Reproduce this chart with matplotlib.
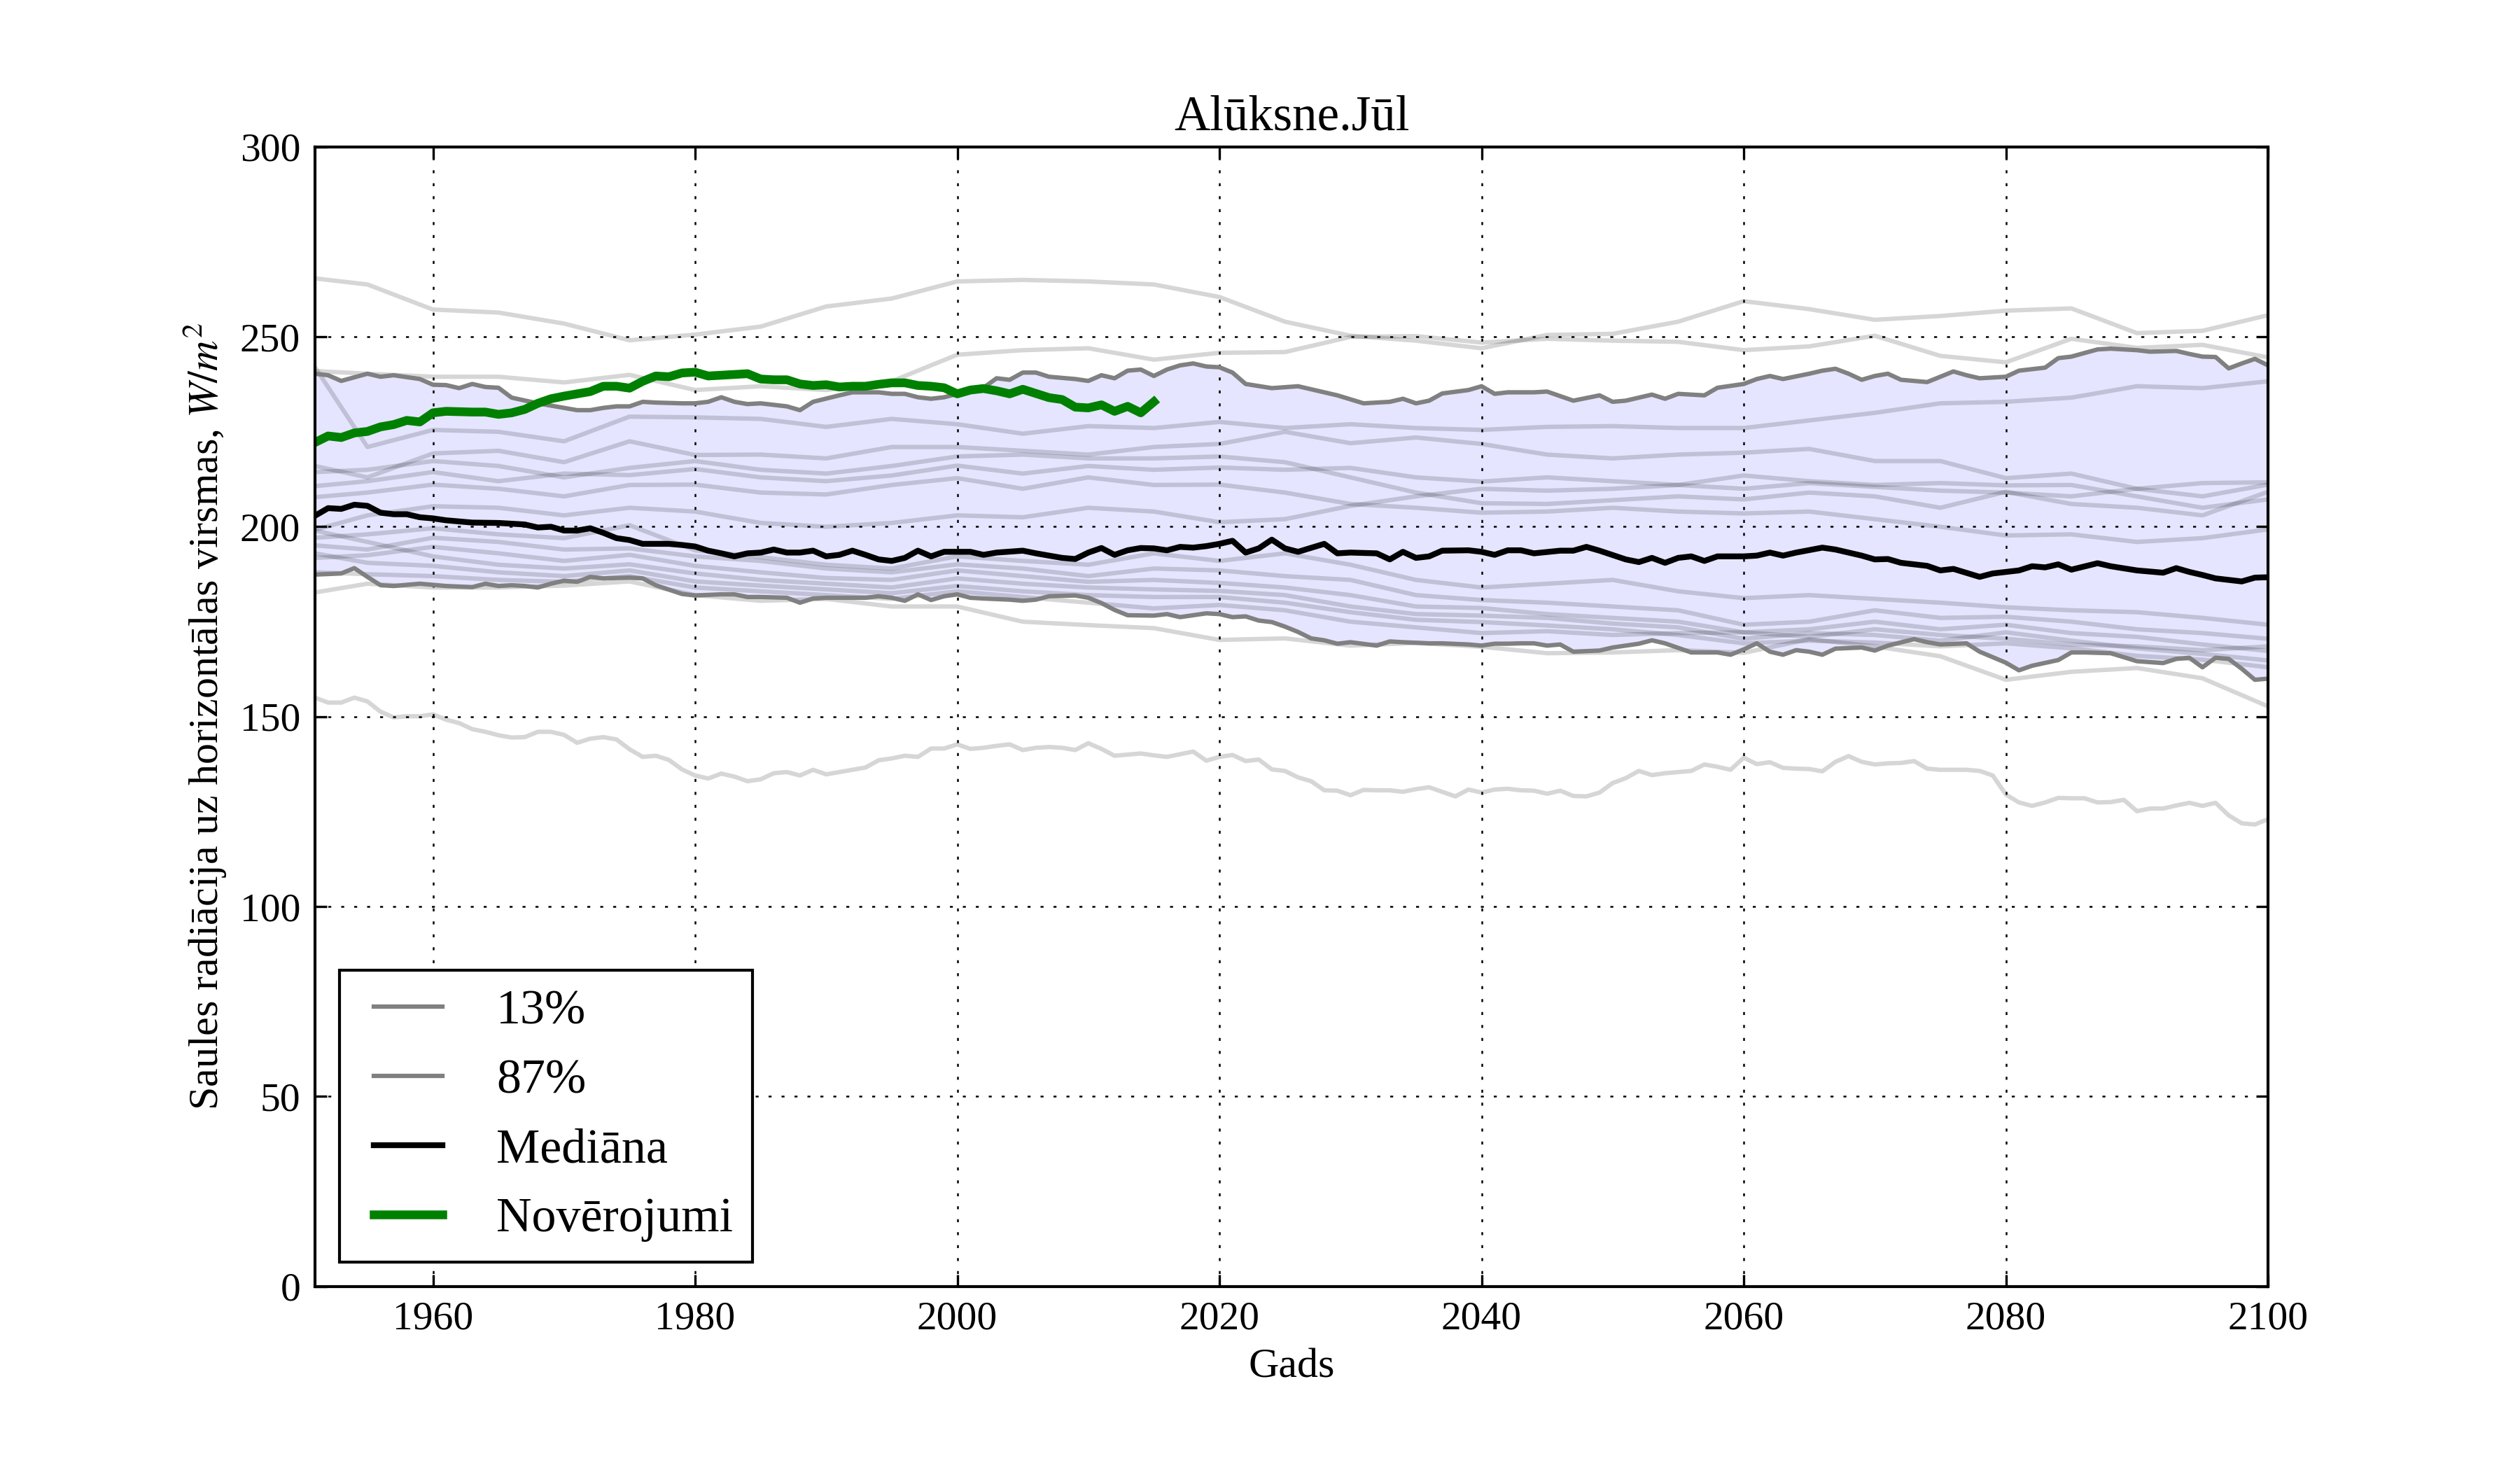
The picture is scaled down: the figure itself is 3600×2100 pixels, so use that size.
#Alūksne July solar radiation: ensemble spread, percentiles, median and observations

import numpy as np
import matplotlib
matplotlib.use("Agg")
import matplotlib.pyplot as plt

plt.rcParams['font.family'] = ['Liberation Serif', 'DejaVu Serif']
plt.rcParams['mathtext.fontset'] = 'stix'
plt.rcParams['xtick.direction'] = 'in'
plt.rcParams['ytick.direction'] = 'in'
plt.rcParams['xtick.top'] = True
plt.rcParams['ytick.right'] = True
plt.rcParams['xtick.major.size'] = 4
plt.rcParams['ytick.major.size'] = 4
plt.rcParams['axes.linewidth'] = 1.0

#----------Ensemble members (5-year readings)----------
years5 = [1951] + list(range(1955, 2101, 5))

mem_u1 = [265.4, 263.8, 257.2, 256.4, 253.5, 249.1, 250.6, 252.7, 258.0, 260.1, 264.6, 265.0, 264.6, 263.8, 260.5, 254.0,
          250.3, 249.0, 247.0, 250.5, 250.8, 254.0, 259.4, 257.3, 254.5, 255.5, 256.9, 257.5, 251.0, 251.6, 255.7]
mem_u2 = [241.0, 240.3, 239.5, 239.5, 238.0, 240.0, 236.0, 237.0, 236.0, 238.3, 245.3, 246.5, 247.0, 244.0, 245.8, 246.0,
          250.0, 250.2, 248.5, 249.5, 249.0, 248.7, 246.5, 247.5, 250.3, 245.0, 243.3, 249.5, 247.1, 247.9, 244.6]
mem_m1 = [242.0, 221.0, 225.5, 225.0, 222.5, 229.0, 228.8, 228.4, 226.3, 228.4, 227.0, 224.5, 226.5, 226.0, 227.6, 226.0,
          227.0, 226.0, 225.5, 226.3, 226.5, 226.0, 226.0, 228.0, 230.0, 232.5, 232.9, 234.0, 237.0, 236.5, 238.3]
mem_iu2 = [216.0, 213.0, 219.3, 220.0, 217.0, 222.5, 218.9, 219.0, 218.0, 221.0, 221.0, 220.0, 219.0, 221.0, 221.8, 225.0,
           222.0, 223.5, 221.8, 219.0, 218.0, 219.0, 219.5, 220.5, 217.3, 217.3, 212.8, 214.0, 210.0, 208.0, 211.1]
mem_iu3 = [214.4, 215.0, 217.3, 216.0, 213.0, 215.5, 217.3, 215.0, 214.0, 216.0, 218.5, 219.0, 218.0, 218.0, 218.5, 217.0,
           213.0, 209.0, 206.2, 206.0, 207.0, 208.0, 207.2, 209.0, 208.0, 205.0, 209.2, 206.0, 205.0, 203.0, 209.2]
mem_iu4 = [210.7, 212.0, 214.4, 212.0, 214.0, 213.6, 215.2, 213.0, 212.0, 213.5, 216.1, 214.0, 216.0, 215.0, 215.6, 215.0,
           215.5, 213.0, 211.9, 213.0, 212.0, 211.0, 213.5, 212.0, 211.0, 211.5, 210.9, 211.0, 208.0, 205.0, 207.2]
mem_iu5 = [207.8, 209.0, 211.1, 210.0, 208.0, 211.0, 211.1, 209.0, 208.5, 211.0, 212.8, 210.0, 213.0, 211.0, 211.1, 209.0,
           206.0, 205.0, 203.7, 204.0, 205.0, 204.0, 203.5, 204.0, 202.0, 200.0, 197.7, 198.0, 196.0, 197.0, 199.3]
mem_iu6 = [199.2, 203.0, 205.4, 205.0, 203.0, 205.0, 204.0, 201.0, 200.0, 201.0, 203.0, 202.5, 205.0, 204.0, 201.2, 202.0,
           205.5, 208.0, 210.0, 209.5, 210.0, 211.0, 210.0, 211.5, 210.5, 209.5, 209.0, 208.0, 210.0, 211.5, 211.7]
mem_il1 = [197.1, 198.0, 199.6, 198.0, 197.0, 200.4, 193.8, 192.0, 190.0, 189.0, 192.2, 191.0, 190.0, 193.0, 191.0, 193.0,
           190.0, 186.0, 184.0, 185.0, 186.0, 183.0, 181.2, 182.0, 181.0, 180.0, 178.8, 178.0, 177.5, 176.0, 174.2]
mem_il2 = [195.1, 194.0, 197.1, 196.0, 194.0, 194.3, 192.2, 191.0, 189.0, 188.0, 190.1, 189.0, 187.0, 189.0, 188.5, 187.0,
           186.0, 182.0, 180.7, 180.0, 179.0, 178.0, 174.2, 175.0, 178.0, 176.0, 176.3, 175.0, 173.0, 172.0, 170.5]
mem_il3 = [191.8, 192.5, 194.7, 193.0, 191.0, 192.6, 189.7, 188.0, 186.5, 186.0, 188.5, 187.0, 185.5, 186.0, 185.2, 184.0,
           182.0, 179.0, 178.6, 177.0, 176.0, 175.0, 172.2, 173.0, 175.0, 173.0, 174.2, 172.0, 171.0, 169.0, 167.3]
mem_il4 = [199.0, 196.0, 192.2, 190.0, 189.0, 190.1, 187.7, 186.0, 185.0, 184.0, 186.4, 185.0, 184.0, 183.5, 183.1, 182.0,
           179.0, 177.0, 176.6, 176.0, 174.5, 173.5, 170.5, 172.0, 171.5, 170.0, 172.2, 170.0, 168.0, 166.5, 164.8]
mem_il5 = [193.0, 190.5, 189.7, 188.0, 187.0, 188.5, 185.6, 184.5, 183.5, 182.5, 184.4, 183.0, 182.0, 181.5, 181.5, 180.0,
           177.5, 175.5, 174.9, 174.0, 173.0, 171.5, 169.3, 170.0, 169.5, 168.5, 169.3, 168.0, 166.0, 165.0, 163.0]
mem_il6 = [188.0, 187.5, 187.0, 186.0, 185.5, 187.0, 184.0, 183.0, 182.0, 181.0, 183.0, 181.5, 180.0, 178.5, 179.4, 178.0,
           175.0, 173.5, 172.0, 172.5, 171.5, 172.0, 172.2, 171.0, 173.0, 171.5, 170.5, 169.0, 168.5, 167.5, 168.5]
mem_b = [182.7, 185.0, 184.0, 184.0, 184.5, 185.6, 182.0, 180.5, 181.0, 179.0, 179.0, 175.0, 174.1, 173.3, 170.2, 170.6,
         168.7, 169.4, 168.4, 166.7, 166.9, 167.5, 166.8, 170.4, 168.5, 165.9, 159.7, 161.8, 162.8, 160.1, 152.7]

members = [mem_u1, mem_u2, mem_m1, mem_iu2, mem_iu3, mem_iu4, mem_iu5, mem_iu6,
           mem_il1, mem_il2, mem_il3, mem_il4, mem_il5, mem_il6, mem_b]

#lowest member, read year by year
low_years = list(range(1951, 2101))
low_vals = [155.0, 153.7, 153.7, 155.0, 154.0, 151.3, 149.8, 150.1, 150.1, 150.6,
            149.2, 148.3, 146.7, 146.0, 145.1, 144.5, 144.6, 146.0, 146.0, 145.2,
            143.1, 144.2, 144.6, 144.0, 141.4, 139.4, 139.7, 138.6, 136.1, 134.5,
            133.7, 135.0, 134.2, 133.0, 133.5, 135.1, 135.4, 134.5, 136.0, 134.8,
            135.4, 136.0, 136.6, 138.5, 139.0, 139.7, 139.4, 141.6, 141.6, 142.7,
            141.5, 141.8, 142.3, 142.7, 141.2, 141.8, 142.0, 141.8, 141.2, 143.0,
            141.5, 139.7, 140.0, 140.3, 139.8, 139.4, 140.1, 140.8, 138.4, 139.4,
            139.9, 138.3, 138.7, 136.1, 135.7, 134.0, 133.0, 130.6, 130.5, 129.3,
            130.7, 130.6, 130.6, 130.2, 130.9, 131.4, 130.2, 129.0, 130.8, 130.0,
            130.8, 131.0, 130.6, 130.5, 129.7, 130.5, 129.1, 129.0, 130.0, 132.5,
            133.8, 135.7, 134.6, 135.1, 135.4, 135.7, 137.4, 136.8, 136.0, 139.2,
            137.5, 138.0, 136.5, 136.3, 136.2, 135.6, 138.1, 139.6, 138.1, 137.4,
            137.7, 137.8, 138.3, 136.3, 136.0, 136.0, 136.0, 135.7, 134.5, 129.5,
            127.4, 126.5, 127.4, 128.6, 128.5, 128.5, 127.4, 127.5, 128.1, 125.1,
            125.8, 125.8, 126.6, 127.3, 126.5, 127.3, 124.0, 121.9, 121.6, 123.0]

#----------87% percentile----------
p87_years = [1951, 1952, 1953, 1955, 1956, 1957, 1959, 1960, 1961, 1962, 1963, 1964, 1965, 1966, 1968, 1970,
             1971, 1972, 1973, 1974, 1975, 1976, 1977, 1979, 1980, 1981, 1982, 1983, 1984, 1985, 1986, 1987,
             1988, 1989, 1991, 1992, 1994, 1995, 1996, 1997, 1998, 1999, 2000, 2002, 2003, 2004, 2005, 2006,
             2007, 2009, 2010, 2011, 2012, 2013, 2014, 2015, 2016, 2017, 2018, 2019, 2020, 2021, 2022, 2024,
             2026, 2029, 2031, 2033, 2034, 2035, 2036, 2037, 2039, 2040, 2041, 2042, 2044, 2045, 2047, 2049,
             2050, 2051, 2053, 2054, 2055, 2057, 2058, 2060, 2061, 2062, 2063, 2065, 2066, 2067, 2068, 2069,
             2070, 2071, 2072, 2074, 2075, 2076, 2077, 2078, 2080, 2081, 2083, 2084, 2085, 2087, 2088, 2090,
             2091, 2093, 2094, 2095, 2096, 2097, 2098, 2099, 2100]
p87_vals = [240.3, 239.9, 238.4, 240.3, 239.5, 239.9, 238.9, 237.4, 237.3, 236.5, 237.6, 236.8, 236.6, 234.0, 232.5, 231.3,
            230.7, 230.7, 231.3, 231.7, 231.7, 232.9, 232.7, 232.5, 232.5, 232.9, 234.1, 232.9, 232.3, 232.5, 232.1, 231.7,
            230.7, 232.9, 234.6, 235.4, 235.4, 235.0, 235.0, 234.1, 233.7, 234.1, 235.0, 236.6, 239.1, 238.7, 240.6, 240.6,
            239.5, 238.9, 238.4, 239.9, 239.1, 241.1, 241.4, 239.7, 241.4, 242.5, 243.0, 242.2, 242.0, 240.6, 237.6, 236.5,
            237.0, 234.6, 232.5, 232.9, 233.7, 232.5, 233.2, 235.1, 236.0, 237.0, 235.0, 235.4, 235.4, 235.6, 233.2, 234.6,
            232.9, 233.2, 234.8, 233.7, 235.0, 234.6, 236.6, 237.6, 238.9, 239.7, 238.9, 240.3, 241.1, 241.6, 240.3, 238.7,
            239.7, 240.3, 238.7, 238.1, 239.5, 240.9, 239.9, 239.1, 239.5, 241.1, 241.9, 244.4, 244.8, 246.7, 246.9, 246.5,
            246.1, 246.3, 245.5, 244.8, 244.7, 241.7, 243.0, 244.2, 242.5]

#----------13% percentile----------
p13_years = [1951, 1953, 1954, 1955, 1956, 1957, 1959, 1961, 1963, 1964, 1965, 1966, 1967, 1968, 1969, 1970,
             1971, 1972, 1973, 1975, 1976, 1977, 1979, 1980, 1982, 1983, 1984, 1985, 1987, 1988, 1989, 1990,
             1991, 1993, 1994, 1995, 1996, 1997, 1998, 1999, 2000, 2001, 2002, 2004, 2005, 2006, 2007, 2009,
             2010, 2011, 2012, 2013, 2015, 2016, 2017, 2018, 2019, 2020, 2021, 2022, 2023, 2024, 2025, 2026,
             2027, 2028, 2029, 2030, 2032, 2033, 2034, 2036, 2037, 2039, 2040, 2041, 2042, 2043, 2044, 2045,
             2046, 2047, 2049, 2050, 2052, 2053, 2054, 2056, 2058, 2059, 2060, 2061, 2062, 2063, 2064, 2065,
             2066, 2067, 2069, 2070, 2071, 2073, 2074, 2075, 2077, 2078, 2080, 2081, 2082, 2084, 2085, 2086,
             2088, 2090, 2092, 2093, 2094, 2095, 2096, 2097, 2098, 2099, 2100]
p13_vals = [187.4, 187.7, 189.1, 186.8, 184.6, 184.4, 185.0, 184.4, 184.1, 185.0, 184.4, 184.6, 184.4, 184.0, 185.0, 185.8,
            185.5, 186.8, 186.4, 186.6, 186.4, 184.6, 182.3, 181.9, 182.2, 182.2, 181.5, 181.5, 181.3, 180.0, 181.1, 181.3,
            181.3, 181.3, 181.7, 181.3, 180.5, 182.2, 180.7, 181.7, 182.2, 181.3, 181.1, 180.8, 180.5, 180.8, 181.7, 181.9,
            181.3, 179.9, 178.1, 176.7, 176.6, 177.0, 176.2, 176.7, 177.2, 177.0, 176.2, 176.4, 175.3, 174.9, 173.7, 172.3,
            170.6, 170.1, 169.2, 169.6, 168.7, 169.8, 169.6, 169.3, 169.3, 169.0, 168.7, 169.2, 169.2, 169.3, 169.3, 168.7,
            169.0, 167.1, 167.4, 168.2, 169.2, 170.1, 169.3, 166.9, 166.9, 166.3, 167.7, 169.3, 167.1, 166.3, 167.5, 167.1,
            166.3, 167.9, 168.2, 167.4, 168.7, 170.4, 169.6, 169.0, 169.3, 167.1, 164.2, 162.2, 163.4, 164.9, 166.9, 166.9,
            166.7, 164.6, 164.1, 165.2, 165.5, 163.0, 165.5, 165.2, 162.6, 159.7, 160.0]

#----------Median----------
med_years = [1951, 1952, 1953, 1954, 1955, 1956, 1957, 1958, 1959, 1960, 1961, 1963, 1965, 1967, 1968, 1969,
             1970, 1971, 1972, 1973, 1974, 1975, 1976, 1978, 1979, 1980, 1981, 1982, 1983, 1984, 1985, 1986,
             1987, 1988, 1989, 1990, 1991, 1992, 1993, 1994, 1995, 1996, 1997, 1998, 1999, 2000, 2001, 2002,
             2003, 2005, 2006, 2008, 2009, 2010, 2011, 2012, 2013, 2014, 2015, 2016, 2017, 2018, 2019, 2020,
             2021, 2022, 2023, 2024, 2025, 2026, 2028, 2029, 2030, 2032, 2033, 2034, 2035, 2036, 2037, 2039,
             2040, 2041, 2042, 2043, 2044, 2046, 2047, 2048, 2049, 2051, 2052, 2053, 2054, 2055, 2056, 2057,
             2058, 2060, 2061, 2062, 2063, 2064, 2066, 2067, 2069, 2070, 2071, 2072, 2074, 2075, 2076, 2078,
             2079, 2081, 2082, 2083, 2084, 2085, 2087, 2088, 2090, 2092, 2093, 2094, 2095, 2096, 2098, 2099,
             2100]
med_vals = [202.9, 204.9, 204.7, 205.8, 205.5, 203.7, 203.3, 203.3, 202.5, 202.2, 201.7, 201.1, 201.0, 200.6, 199.8, 200.0,
            199.0, 199.0, 199.6, 198.4, 197.0, 196.5, 195.5, 195.5, 195.2, 194.8, 193.7, 193.0, 192.2, 193.0, 193.2, 194.0,
            193.2, 193.2, 193.7, 192.2, 192.6, 193.7, 192.6, 191.4, 191.0, 191.8, 193.7, 192.2, 193.4, 193.4, 193.4, 192.6,
            193.2, 193.7, 193.0, 191.8, 191.5, 193.2, 194.4, 192.6, 193.8, 194.4, 194.3, 193.8, 194.7, 194.5, 194.9, 195.5,
            196.3, 193.2, 194.3, 196.6, 194.3, 193.4, 195.5, 193.0, 193.2, 193.0, 191.4, 193.4, 191.8, 192.2, 193.7, 193.8,
            193.4, 192.6, 193.8, 193.8, 193.0, 193.7, 193.7, 194.7, 193.7, 191.4, 190.7, 191.8, 190.5, 191.8, 192.2, 191.0,
            192.2, 192.2, 192.4, 193.2, 192.4, 193.2, 194.5, 194.0, 192.4, 191.4, 191.5, 190.5, 189.7, 188.5, 188.9, 186.8,
            187.7, 188.5, 189.6, 189.3, 190.1, 188.7, 190.4, 189.6, 188.5, 187.9, 189.1, 188.1, 187.3, 186.4, 185.6, 186.6,
            186.7]

#----------Observations----------
obs_years = [1951, 1952, 1953, 1954, 1955, 1956, 1957, 1958, 1959, 1960, 1961, 1963, 1964, 1965, 1966, 1967,
             1968, 1969, 1970, 1971, 1972, 1973, 1974, 1975, 1976, 1977, 1978, 1979, 1980, 1981, 1982, 1983,
             1984, 1985, 1986, 1987, 1988, 1989, 1990, 1991, 1992, 1993, 1994, 1995, 1996, 1997, 1998, 1999,
             2000, 2001, 2002, 2003, 2004, 2005, 2006, 2007, 2008, 2009, 2010, 2011, 2012, 2013, 2014, 2015]
obs_vals = [222.2, 223.9, 223.5, 224.7, 225.1, 226.3, 226.9, 228.0, 227.6, 230.0, 230.4, 230.2, 230.2, 229.6, 230.0, 230.9,
            232.5, 233.7, 234.4, 235.0, 235.6, 237.0, 237.0, 236.5, 238.3, 239.7, 239.5, 240.5, 240.7, 239.7, 239.9, 240.1,
            240.3, 238.9, 238.7, 238.7, 237.6, 237.2, 237.4, 236.8, 237.0, 237.0, 237.5, 237.9, 237.9, 237.2, 237.0, 236.6,
            235.0, 236.0, 236.4, 235.8, 235.0, 236.2, 235.1, 234.0, 233.5, 231.5, 231.3, 232.1, 230.4, 231.7, 230.0, 232.9]

xticks = [1960, 1980, 2000, 2020, 2040, 2060, 2080, 2100]
yticks = [0, 50, 100, 150, 200, 250, 300]

fig = plt.figure(figsize=(12, 7), dpi=300)
plt.subplots_adjust(left=0.125, right=0.9, bottom=0.125, top=0.9)

#----------Members----------
for m in members:
    plt.plot(years5, m, color='k', alpha=0.16, linewidth=1.5)
plt.plot(low_years, low_vals, color='k', alpha=0.16, linewidth=1.5)

#----------Percentile band----------
band_x = np.concatenate([p87_years, p13_years[::-1]])
band_y = np.concatenate([p87_vals, p13_vals[::-1]])
plt.fill(band_x, band_y, color='b', alpha=0.1, linewidth=0)

plt.plot(p13_years, p13_vals, color='gray', linewidth=1.5, label='13%')
plt.plot(p87_years, p87_vals, color='gray', linewidth=1.5, label='87%')
plt.plot(med_years, med_vals, color='k', linewidth=2, label='Mediāna')
plt.plot(obs_years, obs_vals, color='g', linewidth=3, label='Novērojumi')

plt.xlim(1951, 2100)
plt.ylim(0, 300)
plt.xticks(xticks, fontsize=13.8)
plt.yticks(yticks, fontsize=13.8)
plt.tick_params(pad=5)
plt.grid(True, color='k', linestyle=(0, (1.7, 5.7)), linewidth=0.6)

plt.title("Alūksne.Jūl", fontsize=17)
plt.xlabel("Gads", fontsize=14.4)
plt.ylabel("Saules radiācija uz horizontālas virsmas, $W/m^2$", fontsize=14.4)

leg = plt.legend(loc='lower left', fontsize=16.8, fancybox=False, framealpha=1, edgecolor='k',
                 numpoints=2, handlelength=2, handletextpad=0.8, borderpad=0.4, labelspacing=0.5)
leg.get_frame().set_linewidth(1.0)

plt.savefig("out.png", dpi=300)
